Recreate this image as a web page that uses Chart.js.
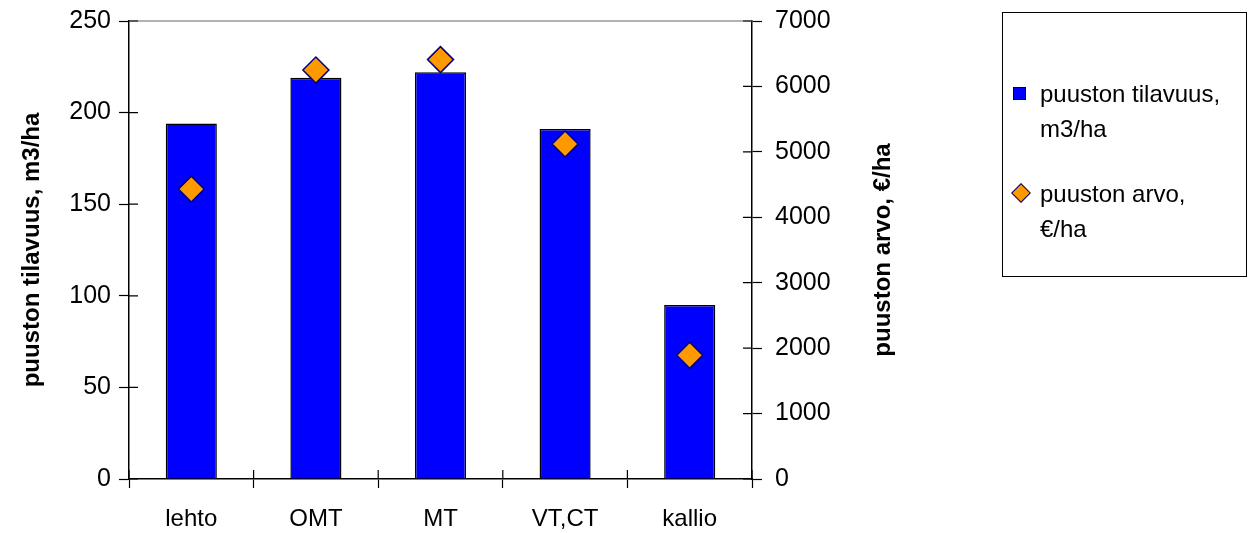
<!DOCTYPE html>
<html>
<head>
<meta charset="utf-8">
<script src="https://cdn.jsdelivr.net/npm/chart.js@4.4.1/dist/chart.umd.min.js"></script>
<style>
  html, body { margin: 0; padding: 0; background: #fff; }
  #wrap { position: relative; width: 1248px; height: 533px; }
  #legend {
    position: absolute; left: 1002px; top: 12px; width: 245px; height: 265px;
    border: 1px solid #000; box-sizing: border-box;
    font-family: 'Liberation Sans', Arial, sans-serif; font-size: 24px; color: #000;
  }
  .leg-item { position: absolute; left: 37px; line-height: 35px; }
  .leg-mark { position: absolute; box-sizing: border-box; }
  .sq { left: -27px; top: 11px; width: 13px; height: 13px; background: #0000ff; border: 1px solid #000; }
  .dm { left: -26px; top: 10px; width: 14px; height: 14px; background: #ff9900; border: 1.5px solid #000080; transform: rotate(45deg); }
</style>
</head>
<body>
<div id="wrap">
  <canvas id="c" width="1248" height="533"></canvas>
  <div id="legend">
    <div class="leg-item" style="top:63px"><span class="leg-mark sq"></span>puuston tilavuus,<br>m3/ha</div>
    <div class="leg-item" style="top:163px"><span class="leg-mark dm"></span>puuston arvo,<br>€/ha</div>
  </div>
</div>
<script>
const categories = ['lehto', 'OMT', 'MT', 'VT,CT', 'kallio'];
const volume = [194, 219, 222, 191, 95];          // puuston tilavuus, m3/ha
const value = [4430, 6250, 6410, 5120, 1890];     // puuston arvo, €/ha
const leftTitle = 'puuston tilavuus, m3/ha';
const rightTitle = 'puuston arvo, €/ha';

const FONT = "'Liberation Sans', Arial, sans-serif";

// ticks crossing into the plot area + grey top border + right axis title
const decor = {
  id: 'decor',
  afterDraw(chart) {
    const ctx = chart.ctx;
    const a = chart.chartArea;
    ctx.save();
    ctx.strokeStyle = '#999';
    ctx.lineWidth = 1.5;
    ctx.beginPath();
    ctx.moveTo(a.left, a.top);
    ctx.lineTo(a.right, a.top);
    ctx.stroke();

    ctx.strokeStyle = '#000';
    ctx.lineWidth = 1.2;
    ctx.beginPath();
    chart.scales.y.ticks.forEach(t => {
      const py = chart.scales.y.getPixelForValue(t.value);
      ctx.moveTo(a.left, py); ctx.lineTo(a.left + 9, py);
    });
    chart.scales.y1.ticks.forEach(t => {
      const py = chart.scales.y1.getPixelForValue(t.value);
      ctx.moveTo(a.right, py); ctx.lineTo(a.right - 9, py);
    });
    const xs = chart.scales.x;
    for (let i = 0; i <= categories.length; i++) {
      const px = xs.getPixelForValue(i - 0.5);
      ctx.moveTo(px, a.bottom); ctx.lineTo(px, a.bottom - 9);
    }
    ctx.stroke();

    ctx.translate(883, (a.top + a.bottom) / 2);
    ctx.rotate(-Math.PI / 2);
    ctx.fillStyle = '#000';
    ctx.font = 'bold 24px ' + FONT;
    ctx.textAlign = 'center';
    ctx.textBaseline = 'middle';
    ctx.fillText(rightTitle, 0, 0);
    ctx.restore();
  }
};

new Chart(document.getElementById('c'), {
  type: 'bar',
  data: {
    labels: categories,
    datasets: [
      {
        type: 'line',
        label: rightTitle,
        data: value,
        yAxisID: 'y1',
        showLine: false,
        pointStyle: 'rectRot',
        pointRadius: 13,
        backgroundColor: '#ff9900',
        borderColor: '#000080',
        borderWidth: 1.5,
        order: 1,
      },
      {
        label: leftTitle,
        data: volume,
        yAxisID: 'y',
        backgroundColor: '#0000ff',
        borderColor: '#000',
        borderWidth: 1.5,
        barPercentage: 0.41,
        categoryPercentage: 1,
        order: 2,
      },
    ],
  },
  options: {
    responsive: false,
    animation: false,
    layout: { padding: { top: 21, left: 0, right: 0, bottom: 0 } },
    plugins: { legend: { display: false }, tooltip: { enabled: false } },
    scales: {
      x: {
        grid: { offset: true, drawOnChartArea: false, tickLength: 9, tickColor: '#000', tickWidth: 1.2 },
        border: { color: '#000', width: 1.5 },
        ticks: { color: '#000', font: { family: FONT, size: 24 }, padding: 17 },
        afterFit: s => { s.height = 54; },
      },
      y: {
        position: 'left',
        min: 0, max: 250,
        ticks: { stepSize: 50, color: '#000', font: { family: FONT, size: 25 }, padding: 8 },
        grid: { drawOnChartArea: false, tickLength: 10, tickColor: '#000', tickWidth: 1.2 },
        border: { color: '#000', width: 1.5 },
        title: { display: true, text: leftTitle, color: '#000', font: { family: FONT, size: 24, weight: 'bold' }, padding: { top: 18, bottom: 0 } },
        afterFit: s => { s.width = 129; s.paddingTop = 0; s.paddingBottom = 0; },
      },
      y1: {
        position: 'right',
        min: 0, max: 7000,
        ticks: { stepSize: 1000, color: '#000', font: { family: FONT, size: 25 }, padding: 13, callback: v => String(v) },
        grid: { drawOnChartArea: false, tickLength: 10, tickColor: '#000', tickWidth: 1.2 },
        border: { color: '#000', width: 1.5 },
        afterFit: s => { s.width = 496; s.paddingTop = 0; s.paddingBottom = 0; },
      },
    },
  },
  plugins: [decor],
});
</script>
</body>
</html>
